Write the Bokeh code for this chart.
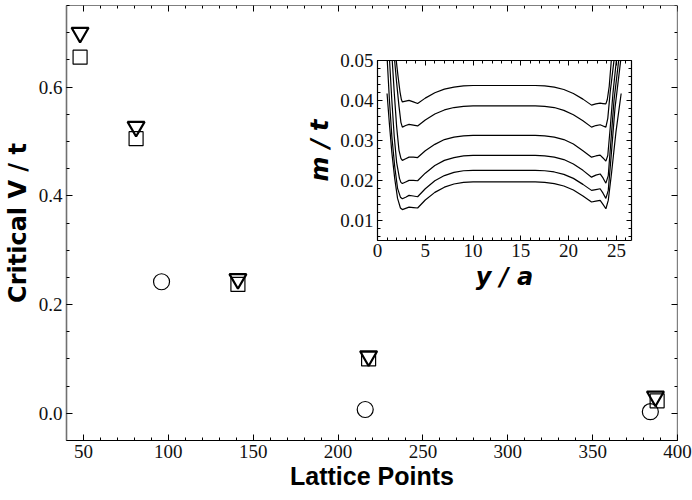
from bokeh.plotting import figure
from bokeh.models import LinearAxis, Range1d, FixedTicker, PrintfTickFormatter
from bokeh.embed import file_html
from bokeh.resources import INLINE

# ---------------- main data ----------------
lattice_tri = [48, 81, 141, 218, 387]
critical_tri = [0.700, 0.527, 0.247, 0.105, 0.031]
lattice_sq = [48, 81, 141, 218, 388]
critical_sq = [0.655, 0.505, 0.237, 0.100, 0.023]
lattice_circ = [96, 216, 384]
critical_circ = [0.242, 0.007, 0.003]

x_ticks = [50, 100, 150, 200, 250, 300, 350, 400]
y_ticks = [0.0, 0.2, 0.4, 0.6]
x_minor = list(range(40, 401, 10))
y_minor = [round(-0.05 + 0.05 * i, 2) for i in range(17)]

# ---------------- inset data ----------------
inset_x_ticks = [0, 5, 10, 15, 20, 25]
inset_y_ticks = [0.01, 0.02, 0.03, 0.04, 0.05]
inset_x_minor = list(range(0, 27))
inset_y_minor = [round(0.006 + 0.002 * i, 3) for i in range(23)]

mid_x = [2.6, 2.95, 3.3, 3.75, 4.2, 5.0, 6.0, 7.0, 8.0, 9.0, 10.0, 13.25,
         16.5, 17.5, 18.5, 19.5, 20.5, 21.5, 22.4, 22.85, 23.3, 23.6, 23.9]

c1_left_x = [1.96, 2.15, 2.35, 2.5]
c1_left_m = [0.05, 0.046, 0.0422, 0.0402]
c1_mid_m = [0.0396, 0.0398, 0.0400, 0.0396, 0.0392, 0.04055, 0.0419, 0.0428, 0.0433, 0.0436, 0.0437, 0.0437,
            0.0437, 0.0436, 0.0433, 0.0427, 0.0417, 0.0403, 0.0388, 0.0391, 0.0393, 0.0392, 0.0391]
c1_right_x = [24.05, 24.25, 24.47]
c1_right_m = [0.0402, 0.0435, 0.05]

c2_left_x = [1.79, 2.0, 2.25, 2.45]
c2_left_m = [0.05, 0.0445, 0.0385, 0.0345]
c2_mid_m = [0.0333, 0.0337, 0.0340, 0.0338, 0.0336, 0.0351, 0.0366, 0.0376, 0.0382, 0.0385, 0.0386, 0.0386,
            0.0386, 0.0385, 0.0382, 0.0375, 0.0364, 0.0349, 0.0333, 0.0337, 0.0339, 0.0336, 0.0333]
c2_right_x = [24.1, 24.35, 24.75]
c2_right_m = [0.0355, 0.042, 0.05]

c3_left_x = [1.54, 1.75, 2.0, 2.25, 2.45]
c3_left_m = [0.05, 0.042, 0.0335, 0.0275, 0.0255]
c3_mid_m = [0.0250, 0.0254, 0.0258, 0.0258, 0.0257, 0.0274, 0.0290, 0.0302, 0.0308, 0.0311, 0.03125, 0.03125,
            0.03125, 0.0311, 0.0308, 0.0302, 0.0291, 0.0274, 0.0258, 0.0261, 0.0263, 0.0256, 0.0248]
c3_right_x = [24.1, 24.35, 24.65, 25.0]
c3_right_m = [0.0262, 0.033, 0.042, 0.05]

c4_left_x = [1.26, 1.5, 1.75, 2.0, 2.3, 2.45]
c4_left_m = [0.05, 0.04, 0.031, 0.0245, 0.0205, 0.0195]
c4_mid_m = [0.0192, 0.0196, 0.0200, 0.0200, 0.0199, 0.0218, 0.0237, 0.0250, 0.0257, 0.0261, 0.02625, 0.02625,
            0.02625, 0.0261, 0.0258, 0.0252, 0.0241, 0.0225, 0.0208, 0.0213, 0.0216, 0.0206, 0.0193]
c4_right_x = [24.15, 24.4, 24.75, 25.24]
c4_right_m = [0.0212, 0.029, 0.04, 0.05]

c5_left_x = [1.02, 1.25, 1.5, 1.8, 2.1, 2.4]
c5_left_m = [0.05, 0.04, 0.031, 0.0235, 0.018, 0.0158]
c5_mid_m = [0.0154, 0.0158, 0.01625, 0.0161, 0.0159, 0.0179, 0.0199, 0.0212, 0.0220, 0.0224, 0.0225, 0.0225,
            0.0225, 0.0224, 0.0221, 0.0215, 0.0205, 0.0190, 0.0175, 0.0177, 0.0179, 0.0168, 0.0155]
c5_right_x = [24.15, 24.45, 24.85, 25.45]
c5_right_m = [0.0175, 0.026, 0.038, 0.05]

c6_left_x = [1.0, 1.25, 1.5, 1.8, 2.1, 2.4]
c6_left_m = [0.0417, 0.034, 0.027, 0.0205, 0.0155, 0.0131]
c6_mid_m = [0.0127, 0.0130, 0.0133, 0.0132, 0.0131, 0.0151, 0.0170, 0.0183, 0.0191, 0.0195, 0.0196, 0.0196,
            0.0196, 0.0195, 0.0192, 0.0186, 0.0176, 0.0161, 0.0146, 0.0148, 0.0150, 0.0140, 0.0129]
c6_right_x = [24.15, 24.5, 24.95, 25.5]
c6_right_m = [0.015, 0.022, 0.032, 0.0417]

curves = [
    (c1_left_x, c1_left_m, c1_mid_m, c1_right_x, c1_right_m),
    (c2_left_x, c2_left_m, c2_mid_m, c2_right_x, c2_right_m),
    (c3_left_x, c3_left_m, c3_mid_m, c3_right_x, c3_right_m),
    (c4_left_x, c4_left_m, c4_mid_m, c4_right_x, c4_right_m),
    (c5_left_x, c5_left_m, c5_mid_m, c5_right_x, c5_right_m),
    (c6_left_x, c6_left_m, c6_mid_m, c6_right_x, c6_right_m),
]

# ---------------- layout parameters ----------------
X_RANGE = (40, 400)
Y_RANGE = (-0.05, 0.75)
INSET_X = (0, 26.6)
INSET_Y = (0.005, 0.05)
# inset box as fractions of the main frame: left, right, bottom, top
INSET_BOX = (0.509, 0.925, 0.460, 0.874)

fx0, fx1, fy0, fy1 = INSET_BOX
span_x = (INSET_X[1] - INSET_X[0]) / (fx1 - fx0)
ix_start = INSET_X[0] - fx0 * span_x
span_y = (INSET_Y[1] - INSET_Y[0]) / (fy1 - fy0)
iy_start = INSET_Y[0] - fy0 * span_y

TICK_FONT = "Liberation Serif"
TICK_SIZE = "19px"
LABEL_FONT = "Liberation Sans"
WIDE_FONT = "DejaVu Sans"
LABEL_SIZE = "24px"

p = figure(width=692, height=500, x_range=Range1d(*X_RANGE), y_range=Range1d(*Y_RANGE),
           x_axis_type=None, y_axis_type=None,
           output_backend="svg", toolbar_location=None,
           min_border_left=66, min_border_right=15, min_border_top=5, min_border_bottom=60)
p.outline_line_color = None
p.background_fill_color = "white"
p.border_fill_color = "white"
p.extra_x_ranges = {"ix": Range1d(ix_start, ix_start + span_x)}
p.extra_y_ranges = {"iy": Range1d(iy_start, iy_start + span_y)}


def style(ax, major=6, minor=3, show_labels=True, line_color="black"):
    ax.major_tick_in = major
    ax.major_tick_out = 0
    ax.minor_tick_in = minor
    ax.minor_tick_out = 0
    ax.axis_line_color = line_color
    ax.axis_line_width = 1.2
    ax.major_tick_line_color = "black"
    ax.minor_tick_line_color = "black"
    ax.major_label_text_font = TICK_FONT
    ax.major_label_text_font_style = "normal"
    ax.major_label_text_font_size = TICK_SIZE
    ax.major_label_text_color = "#111111" if show_labels else None
    ax.major_label_standoff = 4
    ax.axis_label_text_font = LABEL_FONT
    ax.axis_label_text_font_size = LABEL_SIZE
    ax.axis_label_text_color = "black"
    ax.axis_label_standoff = 5


# main axes
xb = LinearAxis(ticker=FixedTicker(ticks=x_ticks, minor_ticks=x_minor), axis_label="Lattice Points")
style(xb)
xb.axis_label_text_font_style = "bold"
xb.axis_label_text_font_size = "25px"
xb.axis_label_standoff = 1
p.add_layout(xb, "below")

yl = LinearAxis(ticker=FixedTicker(ticks=y_ticks, minor_ticks=y_minor),
                formatter=PrintfTickFormatter(format="%.1f"), axis_label="Critical V / t")
style(yl, line_color="#707070")
yl.axis_line_width = 1.6
yl.axis_label_text_font = WIDE_FONT
yl.axis_label_text_font_style = "bold"
yl.axis_label_standoff = 4
p.add_layout(yl, "left")

xt = LinearAxis(ticker=FixedTicker(ticks=x_ticks, minor_ticks=x_minor), fixed_location=Y_RANGE[1])
style(xt, show_labels=False)
p.add_layout(xt, "above")

yr = LinearAxis(ticker=FixedTicker(ticks=y_ticks, minor_ticks=y_minor), fixed_location=X_RANGE[1])
style(yr, show_labels=False)
p.add_layout(yr, "right")

# inset axes
il = LinearAxis(x_range_name="ix", y_range_name="iy", fixed_location=INSET_X[0], bounds=INSET_Y,
                ticker=FixedTicker(ticks=inset_y_ticks, minor_ticks=inset_y_minor),
                formatter=PrintfTickFormatter(format="%.2f"), axis_label="m / t")
style(il, major=5, minor=3)
il.axis_label_text_font = WIDE_FONT
il.axis_label_text_font_style = "bold italic"
il.axis_label_standoff = 3
p.add_layout(il, "left")

ib = LinearAxis(x_range_name="ix", y_range_name="iy", fixed_location=INSET_Y[0], bounds=INSET_X,
                ticker=FixedTicker(ticks=inset_x_ticks, minor_ticks=inset_x_minor),
                formatter=PrintfTickFormatter(format="%d"), axis_label="y / a")
style(ib, major=5, minor=3)
ib.axis_label_text_font = WIDE_FONT
ib.axis_label_text_font_style = "bold italic"
ib.axis_label_standoff = 2
p.add_layout(ib, "below")

it = LinearAxis(x_range_name="ix", y_range_name="iy", fixed_location=INSET_Y[1], bounds=INSET_X,
                ticker=FixedTicker(ticks=inset_x_ticks, minor_ticks=inset_x_minor))
style(it, major=5, minor=3, show_labels=False)
p.add_layout(it, "above")

ir = LinearAxis(x_range_name="ix", y_range_name="iy", fixed_location=INSET_X[1], bounds=INSET_Y,
                ticker=FixedTicker(ticks=inset_y_ticks, minor_ticks=inset_y_minor))
style(ir, major=5, minor=3, show_labels=False)
p.add_layout(ir, "right")

# inset curves
for lx, lm, mm, rx, rm in curves:
    xs = list(lx) + list(mid_x) + list(rx)
    ys = list(lm) + list(mm) + list(rm)
    p.line(xs, ys, x_range_name="ix", y_range_name="iy", line_color="black", line_width=1.2)

# main markers
p.scatter(lattice_sq, critical_sq, marker="square", size=14, fill_color=None,
          line_color="black", line_width=1.2)
p.scatter(lattice_circ, critical_circ, marker="circle", size=16, fill_color=None,
          line_color="black", line_width=1.2)
p.scatter(lattice_tri, critical_tri, marker="inverted_triangle", size=17, fill_color=None,
          line_color="black", line_width=2.2)

open("out.html", "w").write(file_html(p, INLINE))
